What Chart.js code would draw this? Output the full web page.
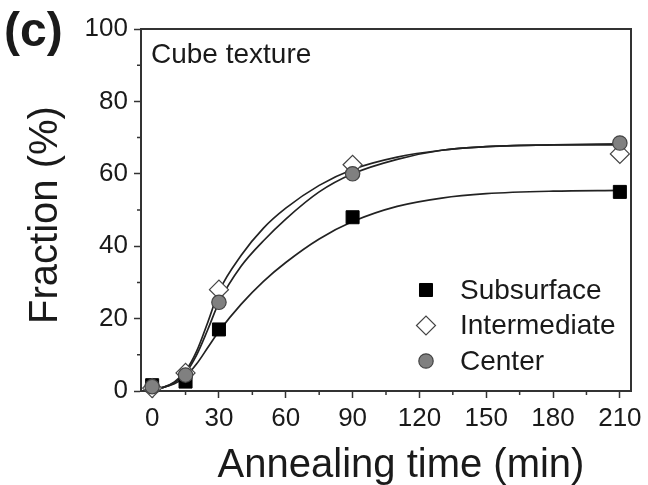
<!DOCTYPE html>
<html>
<head>
<meta charset="utf-8">
<script src="https://cdn.jsdelivr.net/npm/chart.js@4/dist/chart.umd.min.js"></script>
<style>
  html, body { margin: 0; padding: 0; background: #fff; }
  #wrap { width: 648px; height: 485px; position: relative; }
</style>
</head>
<body>
<div id="wrap"><canvas id="cube"></canvas></div>
<script>
// measured fractions at each annealing time (min)
const times = [0, 15, 30, 90, 210];
const subsurface = [1.6, 2.6, 17, 48, 55];
const intermediate = [0.8, 5, 28, 62.5, 65.5];
const center = [1.2, 4.4, 24.5, 60, 68.5];

// fitted curves
const fitTimes = [0, 5, 10, 15, 20, 25, 30, 40, 50, 60, 75, 90, 110, 130, 150, 180, 210];
const subsurfaceFit = [0.5, 1, 2, 4, 7.5, 12, 16.5, 24, 30.3, 35.5, 42, 46.8, 51, 53.3, 54.5, 55.2, 55.4];
const intermediateFit = [0.5, 1, 2.5, 5.5, 11, 19, 27.5, 37.5, 45, 50.5, 56.8, 61.2, 64.6, 66.5, 67.5, 68, 68];
const centerFit = [0.5, 1, 2.3, 5, 10, 17, 24.5, 34.5, 41.5, 47.5, 55, 60, 64, 66.5, 67.5, 68, 68.3];

const xTicks = [0, 30, 60, 90, 120, 150, 180, 210];
const yTicks = [0, 20, 40, 60, 80, 100];

const legendNames = ['Subsurface', 'Intermediate', 'Center'];

const FONT = 'Arial, "Liberation Sans", sans-serif';
const INK = '#1a1a1a';

const pairs = (xs, ys) => xs.map((x, i) => ({ x: x, y: ys[i] }));

const markerStyles = {
  Subsurface: { pointStyle: 'rect', radius: 9.2, fill: '#000', stroke: '#000', width: 1 },
  Intermediate: { pointStyle: 'rectRot', radius: 9.5, fill: '#fff', stroke: '#444', width: 1.2 },
  Center: { pointStyle: 'circle', radius: 7.2, fill: '#808080', stroke: '#444', width: 1.2 },
};

const pointSet = (name, ys) => {
  const s = markerStyles[name];
  return {
    label: name,
    data: pairs(times, ys),
    showLine: false,
    pointStyle: s.pointStyle,
    pointRadius: s.radius,
    pointBackgroundColor: s.fill,
    pointBorderColor: s.stroke,
    pointBorderWidth: s.width,
    clip: false,
  };
};

const curveSet = (name, ys) => ({
  label: name + ' fit',
  data: pairs(fitTimes, ys),
  showLine: true,
  borderColor: '#222',
  borderWidth: 1.7,
  pointRadius: 0,
  cubicInterpolationMode: 'monotone',
  clip: false,
});

// frame, minor ticks, titles and legend
const decorations = {
  id: 'decorations',
  afterDatasetsDraw(chart) {
    const ctx = chart.ctx;
    const area = chart.chartArea;
    const xs = chart.scales.x;
    const ys = chart.scales.y;
    ctx.save();

    ctx.strokeStyle = '#333';
    ctx.lineWidth = 2;
    ctx.beginPath();
    ctx.moveTo(area.left, area.top);
    ctx.lineTo(area.right, area.top);
    ctx.lineTo(area.right, area.bottom);
    ctx.stroke();

    ctx.lineWidth = 1.5;
    ctx.beginPath();
    for (let t = 15; t < 215; t += 30) {
      const px = xs.getPixelForValue(t);
      ctx.moveTo(px, area.bottom);
      ctx.lineTo(px, area.bottom + 4);
    }
    for (let v = 10; v < 100; v += 20) {
      const py = ys.getPixelForValue(v);
      ctx.moveTo(area.left, py);
      ctx.lineTo(area.left - 4, py);
    }
    ctx.stroke();

    ctx.fillStyle = INK;
    ctx.textBaseline = 'alphabetic';
    ctx.textAlign = 'left';
    ctx.font = 'bold 48px ' + FONT;
    ctx.fillText('(c)', 4, 46);

    ctx.font = '28px ' + FONT;
    ctx.fillText('Cube texture', 151, 63);

    ctx.textAlign = 'center';
    ctx.font = '40px ' + FONT;
    ctx.fillText('Annealing time (min)', 401, 477);

    ctx.save();
    ctx.translate(57, 215);
    ctx.rotate(-Math.PI / 2);
    ctx.fillText('Fraction (%)', 0, 0);
    ctx.restore();

    // legend entries
    ctx.textAlign = 'left';
    ctx.textBaseline = 'middle';
    ctx.font = '28px ' + FONT;
    legendNames.forEach((name, i) => {
      const s = markerStyles[name];
      const cy = 290 + i * 35.5;
      ctx.fillStyle = s.fill;
      ctx.strokeStyle = s.stroke;
      ctx.lineWidth = s.width;
      Chart.helpers.drawPoint(ctx, { pointStyle: s.pointStyle, radius: s.radius, borderWidth: s.width }, 426, cy);
      ctx.fillStyle = INK;
      ctx.fillText(name, 460, cy + 1);
    });

    ctx.restore();
  },
};

new Chart(document.getElementById('cube'), {
  type: 'scatter',
  data: {
    datasets: [
      pointSet('Center', center),
      pointSet('Intermediate', intermediate),
      pointSet('Subsurface', subsurface),
      curveSet('Center', centerFit),
      curveSet('Intermediate', intermediateFit),
      curveSet('Subsurface', subsurfaceFit),
    ],
  },
  options: {
    responsive: true,
    maintainAspectRatio: false,
    animation: false,
    layout: { padding: { top: 29, right: 17, left: 0, bottom: 0 } },
    plugins: { legend: { display: false }, tooltip: { enabled: false } },
    scales: {
      x: {
        type: 'linear',
        min: -5,
        max: 215,
        afterFit: (scale) => { scale.height = 94; },
        afterBuildTicks: (scale) => { scale.ticks = xTicks.map((v) => ({ value: v })); },
        grid: { drawOnChartArea: false, drawTicks: true, tickLength: 7, tickWidth: 1.5, tickColor: '#333' },
        border: { display: true, color: '#333', width: 2 },
        ticks: { color: INK, font: { family: FONT, size: 26 }, padding: 5, maxRotation: 0, autoSkip: false },
      },
      y: {
        type: 'linear',
        min: 0,
        max: 100,
        afterFit: (scale) => { scale.width = 141; },
        afterBuildTicks: (scale) => { scale.ticks = yTicks.map((v) => ({ value: v })); },
        grid: { drawOnChartArea: false, drawTicks: true, tickLength: 7, tickWidth: 1.5, tickColor: '#333' },
        border: { display: true, color: '#333', width: 2 },
        ticks: { color: INK, font: { family: FONT, size: 26 }, padding: 6 },
      },
    },
  },
  plugins: [decorations],
});
</script>
</body>
</html>
